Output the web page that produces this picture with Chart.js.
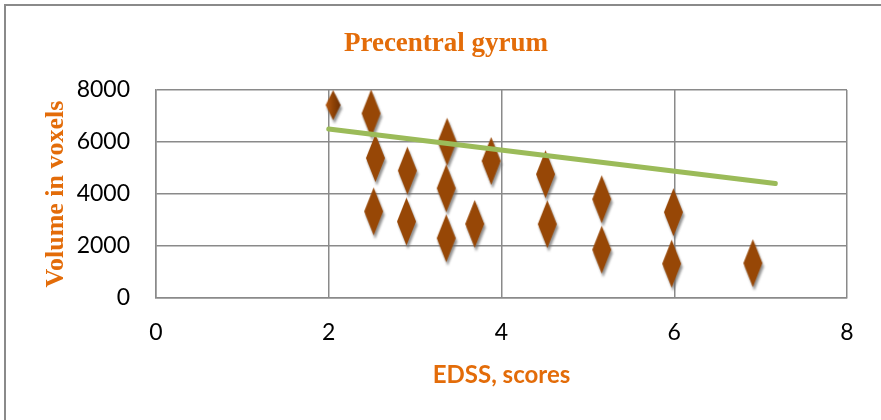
<!DOCTYPE html>
<html>
<head>
<meta charset="utf-8">
<script src="https://cdn.jsdelivr.net/npm/chart.js@4"></script>
<style>
  html, body { margin: 0; padding: 0; background: #fff; }
  #wrap { width: 881px; height: 420px; }
</style>
</head>
<body>
<div id="wrap"><canvas id="chart" width="881" height="420"></canvas></div>
<script>
// EDSS score vs precentral gyrum volume
const edss = [2.05, 2.49, 2.54, 2.52, 2.91, 2.90, 3.37, 3.36, 3.36, 3.69, 3.88, 4.51, 4.53, 5.16, 5.16, 5.99, 5.97, 6.91];
const volume = [7420, 7100, 5380, 3330, 4900, 2940, 6010, 4220, 2300, 2850, 5270, 4760, 2840, 3800, 1860, 3300, 1320, 1340];

// linear trend line end points
const trendX = [2.0, 7.17];
const trendY = [6500, 4400];

const xTicks = [0, 2, 4, 6, 8];
const yTicks = [0, 2000, 4000, 6000, 8000];

const chartTitle = 'Precentral gyrum';
const orange = '#E36C09';
const gridColor = '#8a8a8a';

// diamond marker with a soft grey shadow
function makeDiamond(w, h, shaded) {
    const pad = 6;
    const c = document.createElement('canvas');
    c.width = w + pad * 2;
    c.height = h + pad * 2;
    const ctx = c.getContext('2d');
    const cx = c.width / 2, cy = c.height / 2;
    const path = (dx, dy) => {
        ctx.beginPath();
        ctx.moveTo(cx + dx, cy - h / 2 + dy);
        ctx.lineTo(cx + w / 2 + dx, cy + dy);
        ctx.lineTo(cx + dx, cy + h / 2 + dy);
        ctx.lineTo(cx - w / 2 + dx, cy + dy);
        ctx.closePath();
    };
    ctx.save();
    ctx.filter = 'blur(1px)';
    ctx.fillStyle = 'rgba(110,110,110,0.75)';
    path(1.5, 3.5);
    ctx.fill();
    ctx.restore();
    if (shaded) {
        const g = ctx.createLinearGradient(cx - w / 2, 0, cx + w / 2, 0);
        g.addColorStop(0, '#b55a12');
        g.addColorStop(0.5, '#8f4306');
        g.addColorStop(1, '#6e3003');
        ctx.fillStyle = g;
    } else {
        ctx.fillStyle = '#974706';
    }
    path(0, 0);
    ctx.fill();
    return c;
}
const bigDiamond = makeDiamond(19, 48, false);
const smallDiamond = makeDiamond(15, 30, true);

const scatterPts = edss.map((x, i) => ({ x: x, y: volume[i] }));
const trendPts = trendX.map((x, i) => ({ x: x, y: trendY[i] }));

// white background, outer frame and the chart title
const frame = {
    id: 'frame',
    beforeDraw(chart) {
        const ctx = chart.ctx;
        ctx.save();
        ctx.fillStyle = '#fff';
        ctx.fillRect(0, 0, chart.width, chart.height);
        ctx.strokeStyle = '#8a8a8a';
        ctx.lineWidth = 2;
        ctx.beginPath();
        ctx.moveTo(5, 425);
        ctx.lineTo(5, 5);
        ctx.lineTo(885, 5);
        ctx.stroke();

        ctx.fillStyle = orange;
        ctx.font = 'bold 27px "Liberation Serif", "Times New Roman", serif';
        ctx.textAlign = 'center';
        ctx.textBaseline = 'alphabetic';
        ctx.fillText(chartTitle, 446, 51);
        ctx.restore();
    }
};

new Chart(document.getElementById('chart'), {
    type: 'scatter',
    data: {
        datasets: [
            {
                type: 'line',
                data: trendPts,
                borderColor: '#9BBB59',
                borderWidth: 5,
                borderCapStyle: 'round',
                pointRadius: 0,
                fill: false
            },
            {
                data: scatterPts,
                pointStyle: ctx => ctx.dataIndex === 0 ? smallDiamond : bigDiamond,
                pointRadius: 10
            }
        ]
    },
    options: {
        responsive: false,
        animation: false,
        layout: { padding: { left: 0, right: 34, top: 90, bottom: 0 } },
        plugins: {
            legend: { display: false },
            tooltip: { enabled: false },
            title: { display: false }
        },
        scales: {
            x: {
                type: 'linear',
                min: 0,
                max: 8,
                afterBuildTicks: s => { s.ticks = xTicks.map(v => ({ value: v })); },
                afterFit: s => { s.height = 122; },
                grid: { color: gridColor, lineWidth: 1.5, drawTicks: false },
                border: { color: gridColor, width: 1.5 },
                ticks: {
                    color: '#000',
                    padding: 21,
                    font: { family: 'Lato, sans-serif', size: 23 }
                },
                title: {
                    display: true,
                    text: 'EDSS, scores',
                    color: orange,
                    font: { family: 'Lato, sans-serif', size: 24, weight: 'bold' },
                    padding: { top: 10, bottom: 30 }
                }
            },
            y: {
                min: 0,
                max: 8000,
                afterBuildTicks: s => { s.ticks = yTicks.map(v => ({ value: v })); },
                afterFit: s => { s.width = 156; },
                grid: { color: gridColor, lineWidth: 1.5, drawTicks: false },
                border: { color: gridColor, width: 1.5 },
                ticks: {
                    color: '#000',
                    padding: 26,
                    font: { family: 'Lato, sans-serif', size: 23 },
                    callback: v => String(v)
                },
                title: {
                    display: true,
                    text: 'Volume in voxels',
                    color: orange,
                    font: { family: '"Liberation Serif", "Times New Roman", serif', size: 26, weight: 'bold' },
                    padding: { top: 41 }
                }
            }
        }
    },
    plugins: [frame]
});
</script>
</body>
</html>
